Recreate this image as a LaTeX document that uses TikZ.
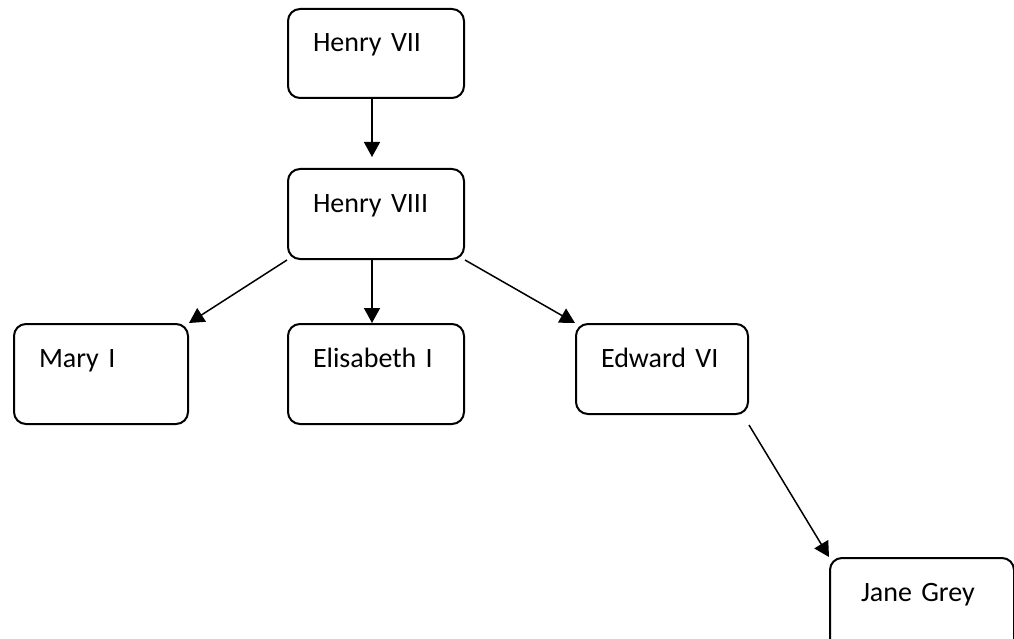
\documentclass[tikz,border=0pt]{standalone}
\usepackage{fontspec}
\setmainfont{Carlito}
\usetikzlibrary{arrows.meta}
\begin{document}
\begin{tikzpicture}[x=1pt,y=-1pt,
  person/.style={draw, line width=2pt, rounded corners=12pt, anchor=north west,
    inner xsep=25pt, inner ysep=0pt, text height=43pt, align=left,
    font=\fontsize{28}{34}\selectfont},
  link/.style={line width=1.5pt, -{Triangle[length=15pt,width=16pt]}}]
\path[use as bounding box] (0,0) rectangle (1014,639);
\clip (0,0) rectangle (1014,639);
\node[person, text width=126pt, text depth=46pt] (h7) at (287,8) {Henry VII};
\node[person, text width=126pt, text depth=47pt] (h8) at (287,168) {Henry VIII};
\node[person, text width=124pt, text depth=57pt] (mary) at (13,323) {Mary I};
\node[person, text width=126pt, text depth=57pt] (eli) at (287,323) {Elisabeth I};
\node[person, text width=122pt, text depth=47pt] (ed) at (575,323) {Edward VI};
\node[person, inner xsep=31pt, text width=122pt, text depth=50pt] (jane) at (829,557) {Jane Grey};
\draw[link, shorten >=11pt] ([xshift=-4pt]h7.south) -- ([xshift=-4pt]h8.north);
\draw[link] (h8.south west) -- (mary.north east);
\draw[link] ([xshift=-4pt]h8.south) -- ([xshift=-4pt]eli.north);
\draw[link] (h8.south east) -- (ed.north west);
\draw[link] ([yshift=-10pt]ed.south east) -- (jane.north west);
\end{tikzpicture}
\end{document}
